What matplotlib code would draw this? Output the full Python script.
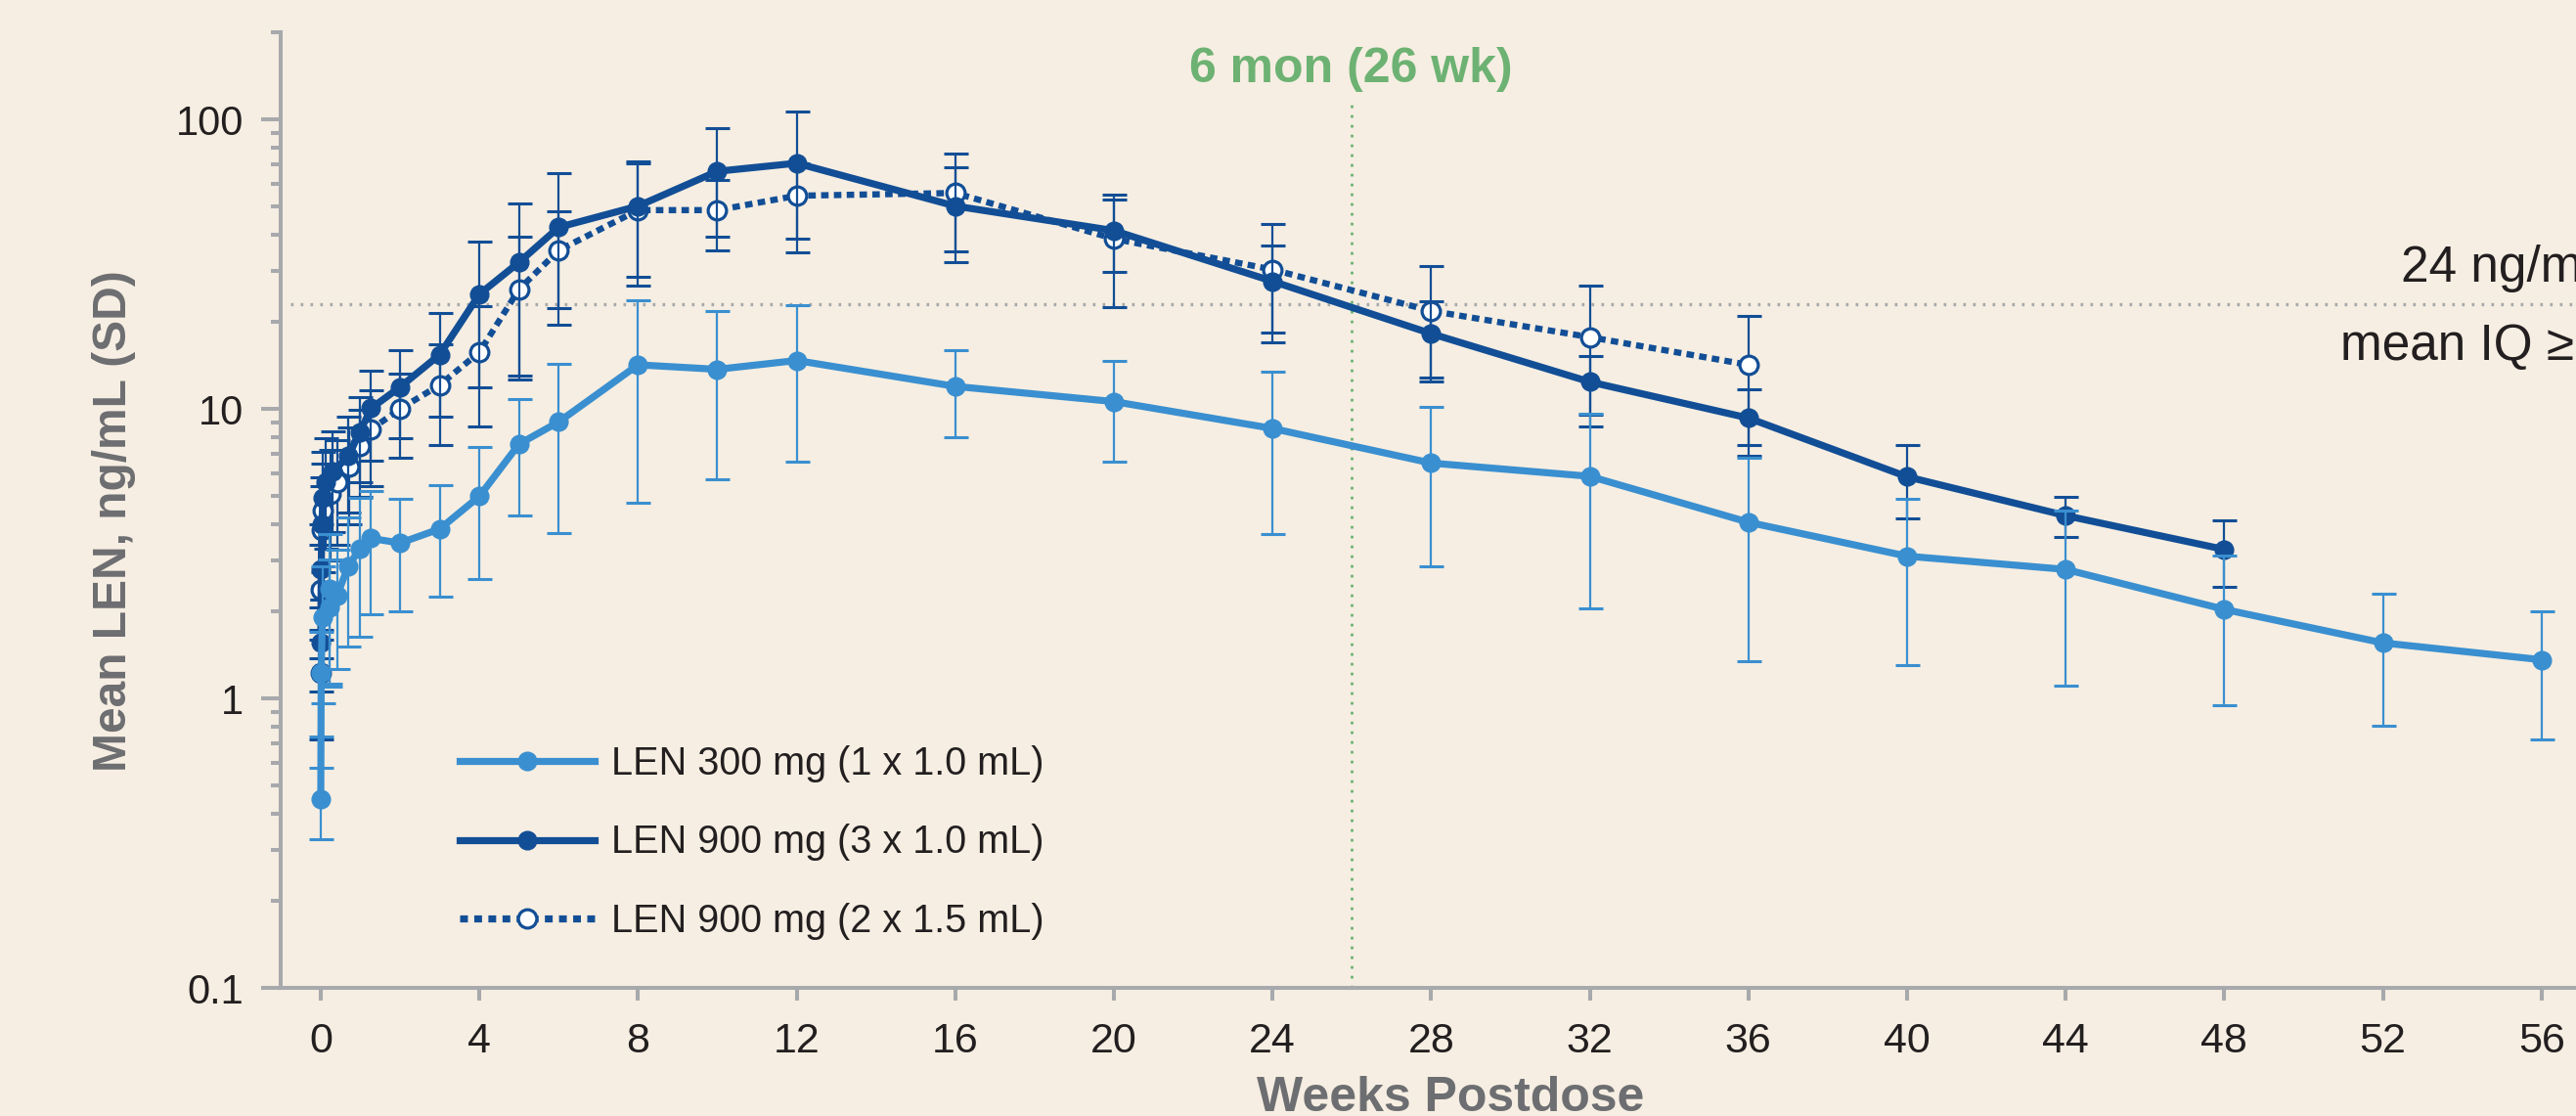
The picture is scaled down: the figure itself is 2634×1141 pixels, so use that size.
import matplotlib
matplotlib.use("Agg")
import matplotlib.pyplot as plt
from matplotlib.lines import Line2D
from matplotlib.ticker import FixedLocator, FuncFormatter, LogLocator, NullFormatter

plt.rcParams['font.family'] = ['Liberation Sans', 'DejaVu Sans']

# ---------------- data (weeks, ng/mL) ----------------
t300 = [0, 0.01, 0.04, 0.21, 0.23, 0.41, 0.69, 0.98, 1.27, 2, 3, 4, 5, 6, 8, 10, 12,
        16, 20, 24, 28, 32, 36, 40, 44, 48, 52, 56]
m300 = [0.45, 1.22, 1.91, 2.07, 2.40, 2.26, 2.86, 3.28, 3.57, 3.44, 3.85, 4.99, 7.56, 9.02,
        14.2, 13.7, 14.7, 11.96, 10.6, 8.56, 6.5, 5.85, 4.06, 3.10, 2.79, 2.03, 1.555, 1.36]
sd300 = [0.125, 0.48, 0.95, 0.95, 1.3, 1.0, 1.35, 1.65, 1.62, 1.44, 1.6, 2.4, 3.27, 5.3,
         9.45, 8.0, 8.15, 3.95, 4.05, 4.85, 3.63, 3.8, 2.72, 1.8, 1.68, 1.08, 0.75, 0.64]

t900a = [0, 0.01, 0.03, 0.05, 0.13, 0.3, 0.7, 0.98, 1.27, 2, 3, 4, 5, 6, 8, 10, 12,
         16, 20, 24, 28, 32, 36, 40, 44, 48]
m900a = [1.555, 2.79, 4.0, 4.93, 5.6, 6.06, 6.88, 8.3, 10.05, 11.9, 15.4, 24.9, 32.1, 42.4,
         50.2, 66.2, 70.6, 50.2, 41.3, 27.6, 18.2, 12.4, 9.3, 5.83, 4.28, 3.27]
sd900a = [0.5, 1.2, 1.8, 2.2, 2.3, 2.3, 2.5, 2.7, 3.45, 4.0, 6.0, 13.0, 19.1, 22.8,
          21.5, 26.8, 35.8, 18.0, 11.5, 9.2, 5.4, 2.85, 2.4, 1.65, 0.68, 0.84]

t900b = [0, 0.01, 0.02, 0.05, 0.25, 0.42, 0.71, 0.98, 1.27, 2, 3, 4, 5, 6, 8, 10, 12,
         16, 20, 24, 28, 32, 36]
m900b = [1.22, 2.38, 3.8, 4.45, 5.1, 5.6, 6.3, 7.46, 8.5, 10.0, 12.1, 15.7, 25.9, 35.3,
         48.6, 48.6, 54.5, 55.7, 38.7, 30.3, 21.8, 17.7, 14.2]
sd900b = [0.5, 1.0, 1.6, 2.0, 2.1, 2.2, 2.3, 2.5, 3.1, 3.24, 4.6, 7.0, 13.3, 13.0,
          22.0, 13.3, 15.8, 20.6, 16.3, 13.3, 9.4, 9.0, 6.7]

labels = ["LEN 300 mg (1 x 1.0 mL)", "LEN 900 mg (3 x 1.0 mL)", "LEN 900 mg (2 x 1.5 mL)"]
xticks = [0, 4, 8, 12, 16, 20, 24, 28, 32, 36, 40, 44, 48, 52, 56]
yticks = [0.1, 1, 10, 100]
threshold = 23
six_month_wk = 26

# ---------------- style ----------------
W, H = 2634, 1141
bg = '#F6EEE2'
light = '#3A8FD0'
dark = '#124E96'
green = '#6DB273'
axgray = '#A7A9AC'
labgray = '#6D6E71'
txt = '#231F20'
LW = 5.2
MS = 13.5

fig = plt.figure(figsize=(W / 100, H / 100), dpi=100)
fig.patch.set_facecolor(bg)
ax = fig.add_axes([287 / W, 1 - 1010 / H, 1 - 287 / W, (1010 - 33) / H])
ax.set_facecolor(bg)
ax.set_yscale('log')
ax.set_ylim(0.1, 200)
ax.set_xlim(-1.011, 56.87)

for s in ['top', 'right']:
    ax.spines[s].set_visible(False)
for s in ['left', 'bottom']:
    ax.spines[s].set_color(axgray)
    ax.spines[s].set_linewidth(2.9)

ax.xaxis.set_major_locator(FixedLocator(xticks))
ax.yaxis.set_major_locator(FixedLocator(yticks))
ax.yaxis.set_major_formatter(FuncFormatter(lambda v, p: ('%g' % v)))
ax.yaxis.set_minor_locator(LogLocator(base=10, subs=range(2, 10), numticks=20))
ax.yaxis.set_minor_formatter(NullFormatter())
ax.tick_params(axis='y', which='major', direction='out', length=14.4, width=2.9,
               color=axgray, pad=13, labelsize=30, labelcolor=txt)
ax.tick_params(axis='y', which='minor', direction='out', length=7.2, width=2.9, color=axgray)
ax.tick_params(axis='x', which='major', direction='out', length=9.4, width=2.9,
               color=axgray, pad=16, labelsize=31, labelcolor=txt)

# reference lines
ax.hlines(threshold, -0.77, 57, colors=axgray, linewidth=2.4,
          linestyles=[(0, (0.8, 2.2))], zorder=1)
ax.vlines(six_month_wk, 0.1, 118, colors=green, linewidth=2.0,
          linestyles=[(0, (1, 2.6))], zorder=1, clip_on=False)

# series
eb = dict(fmt='none', elinewidth=1.6, capsize=9.0, capthick=2.2)
ax.errorbar(t900b, m900b, yerr=sd900b, ecolor=dark, zorder=2, **eb)
ax.plot(t900b, m900b, linestyle=(0, (1.2, 0.85)), color=dark, linewidth=4.6, marker='o',
        markersize=MS, markerfacecolor='white', markeredgecolor=dark,
        markeredgewidth=2.3, zorder=3)
ax.errorbar(t900a, m900a, yerr=sd900a, ecolor=dark, zorder=4, **eb)
ax.plot(t900a, m900a, '-', color=dark, linewidth=LW, marker='o', markersize=MS,
        markerfacecolor=dark, markeredgecolor=dark, zorder=5)
ax.errorbar(t300, m300, yerr=sd300, ecolor=light, zorder=6, **eb)
ax.plot(t300, m300, '-', color=light, linewidth=LW, marker='o', markersize=MS,
        markerfacecolor=light, markeredgecolor=light, zorder=7)

# legend
h1 = Line2D([], [], color=light, linewidth=LW, marker='o', markersize=MS,
            markerfacecolor=light, markeredgecolor=light)
h2 = Line2D([], [], color=dark, linewidth=LW, marker='o', markersize=MS,
            markerfacecolor=dark, markeredgecolor=dark)
h3 = Line2D([], [], color=dark, linewidth=LW, linestyle=(0, (1.1, 0.9)), marker='o',
            markersize=MS, markerfacecolor='white', markeredgecolor=dark,
            markeredgewidth=2.3)
leg = ax.legend([h1, h2, h3], labels, loc='upper left',
                bbox_to_anchor=(470 / W, 1 - 762.2 / H), bbox_transform=fig.transFigure,
                frameon=False, fontsize=28.5, handlelength=3.49, handletextpad=0.43,
                labelspacing=1.066, borderpad=0, borderaxespad=0)
for tx in leg.get_texts():
    tx.set_color(txt)

# annotations
fig.text(1381.6 / W, 1 - 84.3 / H, '6 mon (26 wk)', ha='center', va='baseline',
         fontsize=36, fontweight='bold', color=green)
fig.text(2455 / W, 1 - 288.3 / H, '24 ng/mL', ha='left', va='baseline',
         fontsize=37, color=txt)
fig.text(2393 / W, 1 - 368.3 / H, 'mean IQ \u2265', ha='left', va='baseline',
         fontsize=37, color=txt)
fig.text(117 / W, 1 - 533 / H, 'Mean LEN, ng/mL (SD)', rotation=90, ha='center',
         va='center', fontsize=34.5, fontweight='bold', color=labgray)
fig.text(1483 / W, 1 - 1136 / H, 'Weeks Postdose', ha='center', va='baseline',
         fontsize=36, fontweight='bold', color=labgray)

fig.savefig('out.png', dpi=100, facecolor=bg)
